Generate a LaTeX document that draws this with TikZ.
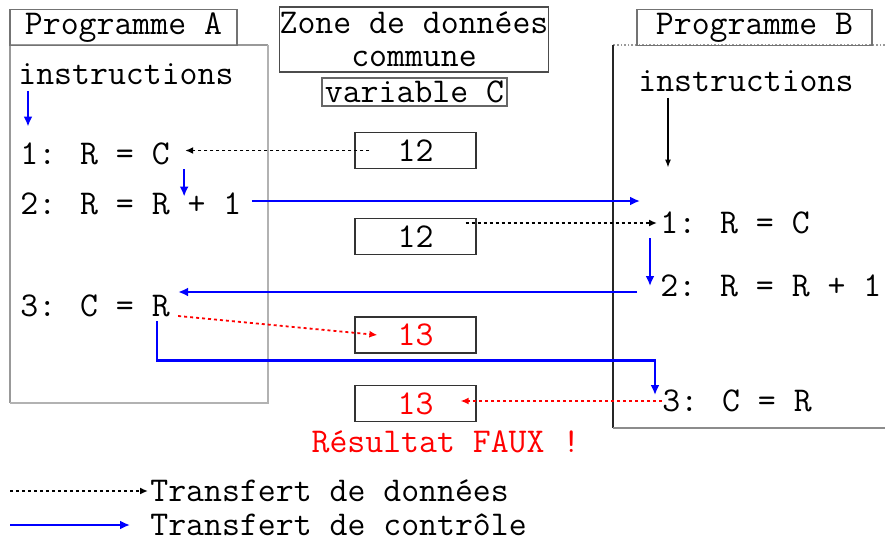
\documentclass[tikz,border=0pt]{standalone}
\usepackage{fontspec}
\usetikzlibrary{arrows.meta,positioning}
\definecolor{ctrlblue}{RGB}{0,0,255}
\definecolor{datared}{RGB}{255,0,0}
\tikzset{
  txt/.style={font=\ttfamily\fontsize{17.4}{15}\selectfont, inner sep=0pt},
  ctrl/.style={ctrlblue, line width=1.1pt, -{Latex[length=5pt,width=4.5pt]}},
  data/.style={dash pattern=on 1.5pt off 1.5pt, line width=0.9pt, -{Latex[length=4pt,width=3.5pt]}},
  valbox/.style={txt, draw=black!80, line width=0.6pt, minimum width=60.5pt, minimum height=18pt},
  tab/.style={txt, draw=black!55, line width=0.8pt, minimum height=18pt}
}

\begin{document}
\begin{tikzpicture}[x=0.5pt,y=-0.5pt]
    \useasboundingbox (0,0) rectangle (885,541);

    % programme A
    \draw[black!40, line width=0.8pt] (268,45) -- (10,45) -- (10,403);
    \draw[black!30, line width=1.4pt] (268,45) -- (268,403) -- (10,403);
    \node[tab, minimum width=113.5pt] (tabA) at (123.5,27.5) {Programme A};
    \node[txt, anchor=west] (instA) at (18,74) {instructions};
    \node[txt, anchor=west] (a1) at (20,154) {1: R = C};
    \node[txt, anchor=west] (a2) at (20,204) {2: R = R + 1};
    \node[txt, anchor=west] (a3) at (20,306) {3: C = R};

    % zone commune
    \node[txt, font=\ttfamily\fontsize{17.4}{16.5}\selectfont, draw=black!70, line width=0.8pt,
      align=center, minimum width=116pt, minimum height=32.5pt] (zone) at (414,39.5) {Zone de donn\'ees\\commune};
    \node[txt, draw=black!60, line width=0.8pt, minimum width=92.5pt,
      minimum height=14pt] (varC) at (414.5,92) {variable C};
    \node[valbox] (v1) at (415.5,150.5) {12};
    \node[valbox] (v2) at (415.5,236.5) {12};
    \node[valbox, text=datared] (v3) at (415.5,335) {13};
    \node[valbox, text=datared] (v4) at (415.5,403.5) {13};
    \node[txt, text=datared] (faux) at (446,442) {R\'esultat FAUX !};

    % programme B
    \draw[black!40, line width=0.8pt, densely dotted] (885,45) -- (613,45);
    \draw[black!85, line width=0.8pt] (613,45) -- (613,428);
    \draw[black!45, line width=1.4pt] (613,428) -- (885,428);
    \node[tab, minimum width=117.5pt] (tabB) at (754.5,27.5) {Programme B};
    \node[txt, anchor=west] (instB) at (638,81) {instructions};
    \node[txt, anchor=west] (b1) at (660,223) {1: R = C};
    \node[txt, anchor=west] (b2) at (660,286) {2: R = R + 1};
    \node[txt, anchor=west] (b3) at (662,401) {3: C = R};
    \coordinate (b3in) at ([xshift=-3.5pt,yshift=3pt]b3.west);

    % control flow
    \draw[ctrl] ([xshift=5pt,yshift=-3pt]instA.south west) -- ([xshift=4pt,yshift=8pt]a1.north west);
    \draw[ctrl] ([xshift=7pt,yshift=-2pt]a1.south east) -- ([xshift=7pt,yshift=-2pt]a1.south east |- a2.north);
    \draw[ctrl] ([xshift=5pt,yshift=1.5pt]a2.east) -- ([xshift=-10pt,yshift=1.5pt]a2.east -| b1.west);
    \draw[ctrl] ([xshift=-5pt,yshift=-2pt]b1.south west) -- ([xshift=-5pt]b2.west);
    \draw[ctrl] ([xshift=-11.5pt,yshift=-3pt]b2.west) -- ([xshift=4pt,yshift=-3pt]b2.west -| a3.east);
    \draw[ctrl] ([xshift=-6.5pt,yshift=-2pt]a3.south east) -- ++(0,39) -| (b3in);
    \draw[black, line width=0.6pt, -{Latex[length=4pt,width=3pt]}] ([xshift=15pt,yshift=-3pt]instB.south west) -- ([xshift=4pt,yshift=22pt]b1.north west);

    % data transfers
    \draw[data] ([xshift=7.5pt]v1.west) -- ([xshift=7.5pt]v1.west -| a1.east);
    \draw[data] ([xshift=-5.5pt]v2.east |- b1.west) -- ([xshift=-1.5pt]b1.west);
    \draw[data, datared] ([xshift=4pt,yshift=-5pt]a3.east) -- ([xshift=11.5pt]v3.west);
    \draw[data, datared] (b3.west) -- ([xshift=-8pt]v4.east |- b3.west);

    % legende
    \node[txt, anchor=west] (legD) at (150,491) {Transfert de donn\'ees};
    \node[txt, anchor=west] (legC) at (150,525) {Transfert de contr\^ole};
    \draw[data] ([xshift=-70pt]legD.west) -- ([xshift=-1pt]legD.west);
    \draw[ctrl] ([xshift=-70pt]legC.west) -- ([xshift=-10pt]legC.west);
\end{tikzpicture}
\end{document}
